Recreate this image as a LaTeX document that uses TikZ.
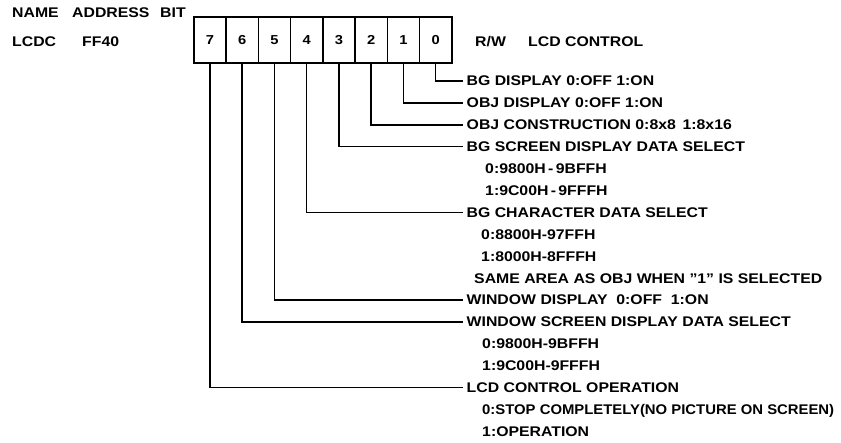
\documentclass[tikz,border=0pt]{standalone}
\usepackage{fontspec}
\setmainfont{Liberation Sans}[FakeStretch=1.13]
\begin{document}
\begin{tikzpicture}[x=1pt,y=-1pt,
  txt/.style={font=\bfseries\fontsize{14}{14}\selectfont, inner sep=0pt, text height=10pt, text depth=0pt},
  lbl/.style={txt, anchor=west, inner xsep=3.5pt},
  cell/.style={draw, line width=1.6pt, minimum width=32.25pt, minimum height=46pt, inner sep=0pt, anchor=north west, font=\bfseries\fontsize{13}{13}\selectfont},
  wire/.style={line width=1.6pt}]
\useasboundingbox (0,0) rectangle (841,443);
% header
\node[txt, anchor=west] (hname) at (12,13) {NAME};
\node[txt, anchor=west] (haddr) at (72,13) {ADDRESS};
\node[txt, anchor=west] (hbit) at (160,13) {BIT};
\node[txt, anchor=west] (vname) at (12,42) {LCDC};
\node[txt, anchor=west] (vaddr) at (82,42) {FF40};
% register cells
\foreach \b [count=\k from 0] in {7,6,5,4,3,2,1,0}
  \node[cell] (c\b) at (193+32.25*\k,16) {\b};
\node[txt, anchor=west] (rw) at (475,42) {R/W};
\node[txt, anchor=west] (lcdctl) at (528,42) {LCD CONTROL};
% labels
\def\r#1{81+21.9*#1}
\node[lbl] (l0) at (463,{\r{0}}) {BG DISPLAY 0:OFF 1:ON};
\node[lbl] (l1) at (463,{\r{1}}) {OBJ DISPLAY 0:OFF 1:ON};
\node[lbl] (l2) at (463,{\r{2}}) {OBJ CONSTRUCTION 0:8x8\ \,1:8x16};
\node[lbl] (l3) at (463,{\r{3}}) {BG SCREEN DISPLAY DATA SELECT};
\node[txt, anchor=west] (l3a) at (485,{\r{4}}) {0:9800H\,-\,9BFFH};
\node[txt, anchor=west] (l3b) at (485,{\r{5}}) {1:9C00H\,-\,9FFFH};
\node[lbl] (l4) at (463,{\r{6}}) {BG CHARACTER DATA SELECT};
\node[txt, anchor=west] (l4a) at (481,{\r{7}}) {0:8800H-97FFH};
\node[txt, anchor=west] (l4b) at (481,{\r{8}}) {1:8000H-8FFFH};
\node[txt, anchor=west] (l4c) at (474,{\r{9}}) {SAME AREA AS OBJ WHEN "1" IS SELECTED};
\node[lbl] (l5) at (463,{\r{10}}) {WINDOW DISPLAY\ \ 0:OFF\ \ 1:ON};
\node[lbl] (l6) at (463,{\r{11}}) {WINDOW SCREEN DISPLAY DATA SELECT};
\node[txt, anchor=west] (l6a) at (482,{\r{12}}) {0:9800H-9BFFH};
\node[txt, anchor=west] (l6b) at (482,{\r{13}}) {1:9C00H-9FFFH};
\node[lbl] (l7) at (463,{\r{14}}) {LCD CONTROL OPERATION};
\node[txt, anchor=west] (l7a) at (482,{\r{15}}) {\scalebox{0.94}[1]{0:STOP COMPLETELY(NO PICTURE ON SCREEN)}};
\node[txt, anchor=west] (l7b) at (482,{\r{16}}) {1:OPERATION};
% wires
\foreach \b in {0,...,7}
  \draw[wire] (c\b.south) |- (l\b.west);
\end{tikzpicture}
\end{document}
